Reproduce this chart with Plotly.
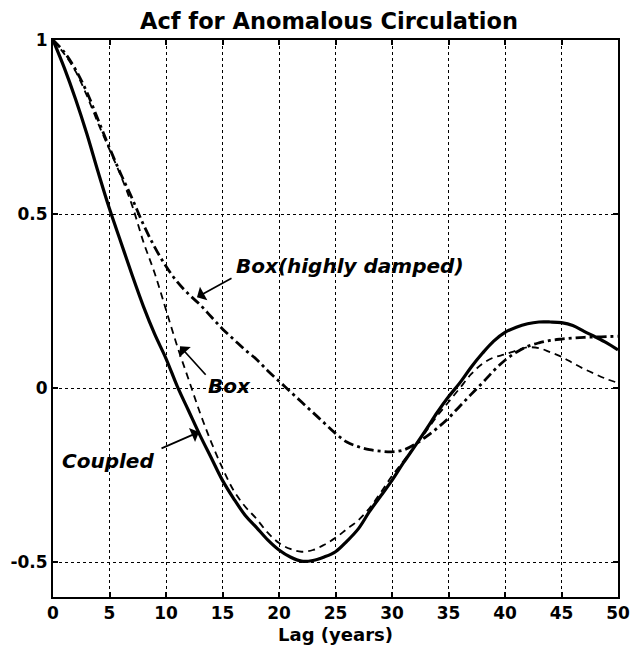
import plotly.graph_objects as go

lag = list(range(0, 51))

coupled = [1.0, 0.92, 0.83, 0.73, 0.62, 0.515, 0.42, 0.325, 0.235, 0.155, 0.085,
           0.005, -0.065, -0.135, -0.2, -0.265, -0.318, -0.365, -0.40, -0.436, -0.465,
           -0.485, -0.497, -0.495, -0.485, -0.47, -0.44, -0.405, -0.355, -0.31, -0.265,
           -0.215, -0.168, -0.12, -0.07, -0.025, 0.015, 0.06, 0.10, 0.135, 0.16,
           0.175, 0.185, 0.19, 0.19, 0.188, 0.18, 0.163, 0.147, 0.13, 0.11]

box = [1.0, 0.96, 0.91, 0.84, 0.76, 0.685, 0.61, 0.525, 0.42, 0.33, 0.225,
       0.12, 0.025, -0.07, -0.155, -0.23, -0.295, -0.34, -0.375, -0.415, -0.445,
       -0.462, -0.47, -0.465, -0.45, -0.43, -0.405, -0.38, -0.345, -0.30, -0.252,
       -0.21, -0.168, -0.125, -0.08, -0.04, 0.0, 0.04, 0.07, 0.088, 0.097,
       0.108, 0.117, 0.115, 0.103, 0.09, 0.072, 0.055, 0.04, 0.026, 0.015]

box_damped = [1.0, 0.965, 0.915, 0.85, 0.77, 0.69, 0.615, 0.545, 0.47, 0.405, 0.35,
              0.305, 0.27, 0.24, 0.205, 0.17, 0.14, 0.11, 0.083, 0.05, 0.02,
              -0.01, -0.04, -0.07, -0.10, -0.13, -0.155, -0.168, -0.177, -0.181, -0.183,
              -0.178, -0.162, -0.14, -0.115, -0.086, -0.052, -0.018, 0.015, 0.05, 0.08,
              0.103, 0.12, 0.13, 0.137, 0.141, 0.144, 0.146, 0.147, 0.148, 0.149]

x_ticks = [0, 5, 10, 15, 20, 25, 30, 35, 40, 45, 50]
y_ticks = [-0.5, 0, 0.5, 1]
y_ticktext = ["-0.5", "0", "0.5", "1"]

FONT = "DejaVu Sans, Verdana, sans-serif"

fig = go.Figure()
fig.add_trace(go.Scatter(x=lag, y=box_damped, mode="lines", name="Box(highly damped)",
                         line=dict(color="black", width=2.8, dash="10px,4px,3px,4px", shape="spline")))
fig.add_trace(go.Scatter(x=lag, y=box, mode="lines", name="Box",
                         line=dict(color="black", width=1.8, dash="7px,5px", shape="spline")))
fig.add_trace(go.Scatter(x=lag, y=coupled, mode="lines", name="Coupled",
                         line=dict(color="black", width=3.2, shape="spline")))

ann_font = dict(family=FONT, size=20, color="black", style="italic", weight="bold")

# labels
fig.add_annotation(x=26.3, y=0.352, text="Box(highly damped)", showarrow=False,
                   font=ann_font, xanchor="center", yanchor="middle")
fig.add_annotation(x=15.6, y=0.006, text="Box", showarrow=False,
                   font=ann_font, xanchor="center", yanchor="middle")
fig.add_annotation(x=4.87, y=-0.209, text="Coupled", showarrow=False,
                   font=ann_font, xanchor="center", yanchor="middle")

# arrows
arrow_style = dict(showarrow=True, arrowhead=1, arrowsize=1.5, arrowwidth=1.7,
                   arrowcolor="black", axref="x", ayref="y", text="")
fig.add_annotation(x=12.74, y=0.261, ax=15.93, ay=0.318, **arrow_style)
fig.add_annotation(x=11.24, y=0.120, ax=13.63, ay=0.034, **arrow_style)
fig.add_annotation(x=12.92, y=-0.126, ax=9.47, ay=-0.175, **arrow_style)

tickfont = dict(family=FONT, size=17, color="black", weight="bold")

fig.update_layout(
    width=624, height=639,
    margin=dict(l=45, r=14, t=32, b=50, autoexpand=False),
    paper_bgcolor="white", plot_bgcolor="white",
    showlegend=False,
    title=dict(text="Acf for Anomalous Circulation", x=0.5144, xanchor="center",
               y=0.9795, yanchor="middle",
               font=dict(family=FONT, size=22.5, color="black", weight="bold")),
    xaxis=dict(range=[0, 50], tickvals=x_ticks, ticks="inside", ticklen=5,
               tickwidth=1.5, tickcolor="black", showline=True, linecolor="black",
               linewidth=2, mirror="ticks", showgrid=True, gridcolor="black",
               griddash="dot", gridwidth=1, zeroline=False, tickfont=tickfont,
               automargin=False,
               title=dict(text="Lag (years)", font=dict(family=FONT, size=18, color="black", weight="bold"),
                          standoff=6)),
    yaxis=dict(range=[-0.6, 1], tickvals=y_ticks, ticktext=y_ticktext, ticks="inside",
               ticklen=5, tickwidth=1.5, tickcolor="black", showline=True,
               linecolor="black", linewidth=2, mirror="ticks", showgrid=True,
               gridcolor="black", griddash="dot", gridwidth=1, zeroline=False,
               tickfont=tickfont, automargin=False),
)

fig.write_html("out.html")
